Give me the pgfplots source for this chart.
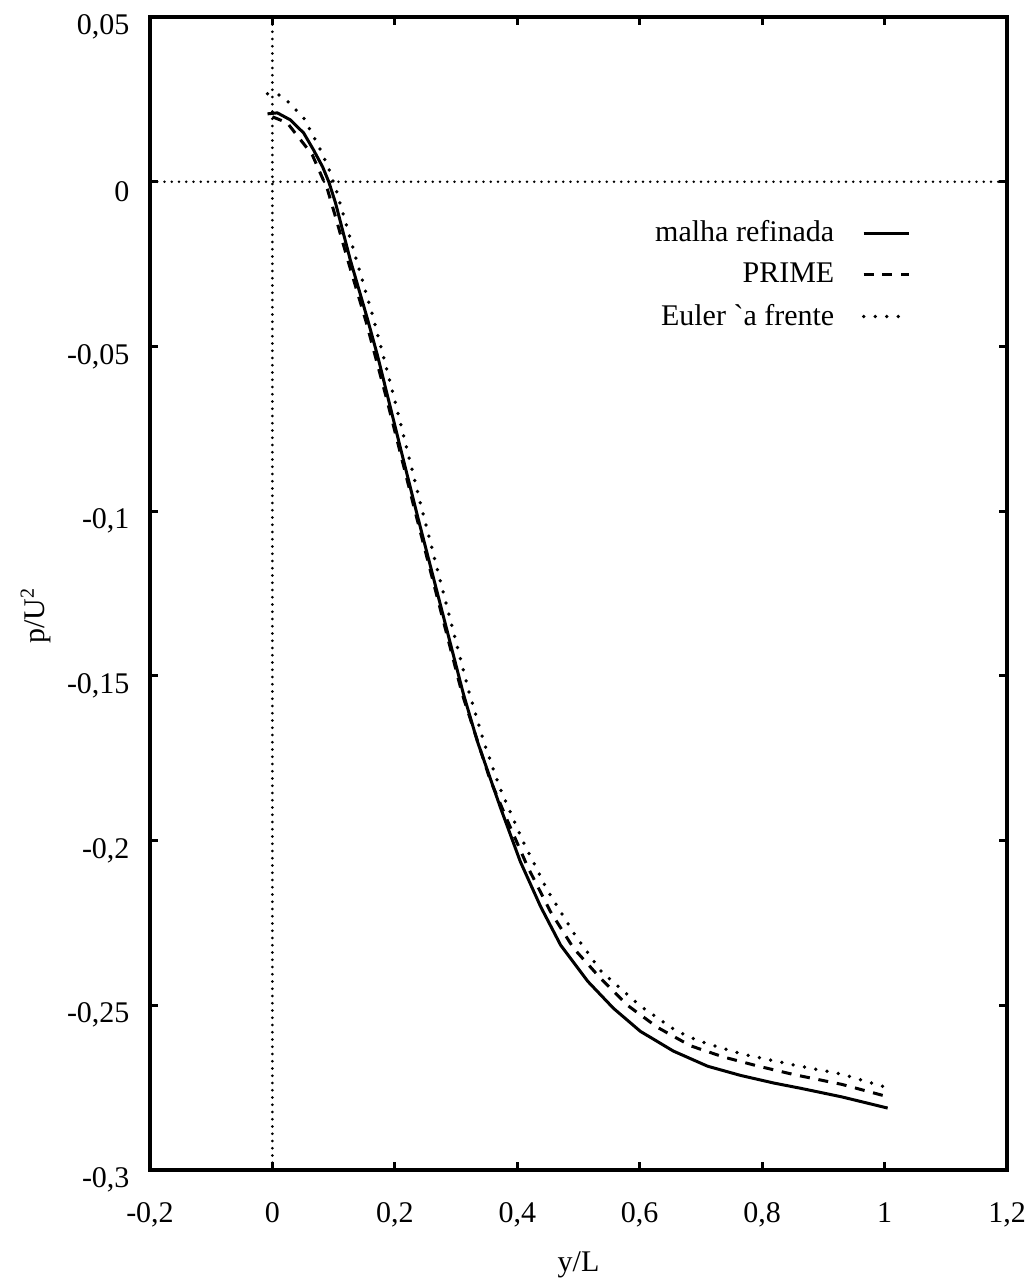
\documentclass[border=0pt]{standalone}
\usepackage{pgfplots}
\pgfplotsset{compat=1.18}
\usepackage{fontspec}
\setmainfont{Liberation Serif}
\pgfplotsset{
  legend image code/.code={\draw[#1] (0pt,0pt) -- (18pt,0pt);}
}
\begin{document}
\begin{tikzpicture}
\begin{axis}[
  name=ax,
  scale only axis,
  width=342.8pt, height=461.2pt,
  xmin=-0.2, xmax=1.2, ymin=-0.3, ymax=0.05,
  xtick={-0.2,0,0.2,0.4,0.6,0.8,1,1.2},
  ytick={-0.3,-0.25,-0.2,-0.15,-0.1,-0.05,0,0.05},
  tick align=inside,
  major tick length=3.2pt,
  axis line style={line width=1.6pt},
  every tick/.style={black, line width=1.2pt},
  font=\fontsize{12}{14}\selectfont,
  tick label style={font=\fontsize{12}{14}\selectfont, inner sep=0pt},
  /pgf/number format/assume math mode=true,
  /pgf/number format/use comma,
  /pgf/number format/fixed,
  /pgf/number format/precision=2,
  xticklabel shift=13pt,
  yticklabel shift=8pt,
  yticklabel style={yshift=-4pt},
  xlabel={y/L},
  ylabel={p/U\textsuperscript{2}},
  xlabel style={at={([yshift=-38pt]rel axis cs:0.5,0)}, anchor=center},
  ylabel style={at={([xshift=-45.6pt]rel axis cs:0,0.481)}, anchor=center},
  legend style={draw=none, fill=none, at={(rel axis cs:0.888,0.828)}, anchor=north east,
    legend cell align=right, row sep=3pt, column sep=9pt, inner sep=0pt,
    font=\fontsize{12}{14}\selectfont},
  legend plot pos=right,
]
\draw[line width=1.15pt, line cap=round, dash pattern=on 0pt off 2.9pt] (axis cs:0,-0.3) -- (axis cs:0,0.05);
\draw[line width=1.15pt, line cap=round, dash pattern=on 0pt off 2.9pt] (axis cs:-0.2,0) -- (axis cs:1.2,0);

\addplot[black, line width=1.2pt] coordinates {
(-0.008,0.0206) (0.008,0.0209) (0.029,0.0188) (0.051,0.0148) (0.067,0.0097)
(0.082,0.0045) (0.092,0.0000) (0.103,-0.0064) (0.127,-0.0236) (0.155,-0.0415)
(0.172,-0.0530) (0.188,-0.0650) (0.210,-0.0815) (0.237,-0.1015) (0.262,-0.1195)
(0.287,-0.1375) (0.312,-0.1555) (0.335,-0.1700) (0.356,-0.1812) (0.3725,-0.1900)
(0.405,-0.2064) (0.438,-0.2200) (0.471,-0.2318) (0.515,-0.2427) (0.557,-0.2509)
(0.601,-0.2579) (0.655,-0.2639) (0.711,-0.2685) (0.765,-0.2713) (0.819,-0.2736)
(0.863,-0.2752) (0.930,-0.2778) (1.005,-0.2812)
};
\addlegendentry{malha refinada}

\addplot[black, line width=1.2pt, dash pattern=on 4pt off 3.5pt] coordinates {
(0.000,0.0197) (0.024,0.0179) (0.046,0.0127) (0.065,0.0082) (0.078,0.0027)
(0.090,-0.0024) (0.102,-0.0100) (0.125,-0.0250) (0.153,-0.0425) (0.186,-0.0655)
(0.235,-0.1015) (0.310,-0.1555) (0.355,-0.1812) (0.384,-0.1940) (0.417,-0.2080)
(0.454,-0.2215) (0.492,-0.2327) (0.536,-0.2418) (0.580,-0.2500) (0.629,-0.2567)
(0.683,-0.2623) (0.737,-0.2657) (0.792,-0.2684) (0.851,-0.2710) (0.930,-0.2740)
(1.002,-0.2776)
};
\addlegendentry{PRIME}

\addplot[black, line width=1.5pt, line cap=round, dash pattern=on 0pt off 4.6pt] coordinates {
(-0.008,0.0267) (0.010,0.0264) (0.026,0.0242) (0.051,0.0194) (0.075,0.0110)
(0.092,0.0040) (0.105,-0.0030) (0.137,-0.0236) (0.165,-0.0415) (0.198,-0.0650)
(0.247,-0.1015) (0.297,-0.1375) (0.322,-0.1555) (0.347,-0.1710) (0.3725,-0.1845)
(0.410,-0.2005) (0.449,-0.2150) (0.492,-0.2280) (0.536,-0.2395) (0.601,-0.2502)
(0.655,-0.2572) (0.683,-0.2598) (0.711,-0.2617) (0.765,-0.2647) (0.846,-0.2679)
(0.930,-0.2709) (1.013,-0.2755)
};
\addlegendentry{Euler \textasciigrave a frente}
\end{axis}
\pgfresetboundingbox
\path ([xshift=-60pt,yshift=-45.6pt]ax.south west) rectangle ([xshift=9.2pt,yshift=6.8pt]ax.north east);
\end{tikzpicture}
\end{document}
